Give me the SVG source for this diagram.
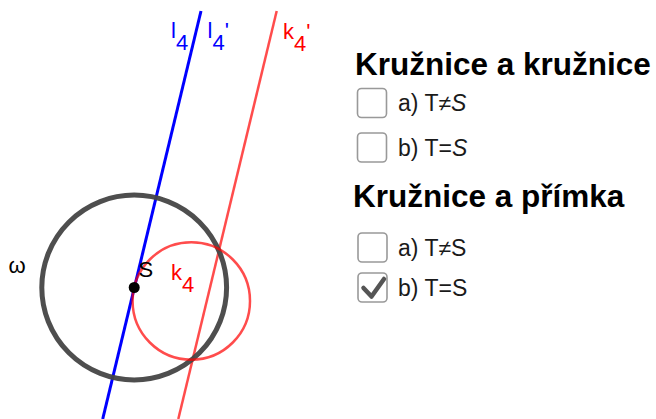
<svg xmlns="http://www.w3.org/2000/svg" width="656" height="419" viewBox="0 0 656 419">
<style>
.lbl{font-family:"Liberation Sans",Arial,sans-serif;font-size:22px}
.h{font-family:"Liberation Sans",Arial,sans-serif;font-size:31.5px;font-weight:bold;fill:#000}
.opt{font-family:"Liberation Sans",Arial,sans-serif;font-size:23px;fill:#1a1a1a}
.box{fill:#fff;stroke:#999;stroke-width:1.6}
</style>
<rect width="656" height="419" fill="#fff"/>
<g id="connectors">
<line id="l4" x1="201" y1="11" x2="102.7" y2="419" stroke="#0000ff" stroke-width="3"/>
<line id="k4p" x1="276.7" y1="11" x2="178.3" y2="419" stroke="#ff0000" stroke-opacity="0.7" stroke-width="2.5"/>
</g>
<g id="omega"><circle cx="134.2" cy="287.5" r="92.4" fill="none" stroke="#444" stroke-opacity="0.95" stroke-width="5"/></g>
<g id="k4"><circle cx="191.3" cy="301" r="58.7" fill="none" stroke="#ff0000" stroke-opacity="0.7" stroke-width="2.5"/></g>
<g id="S"><circle cx="134.2" cy="287.5" r="5.5" fill="#000"/></g>
<g id="labels">
<text class="lbl" x="171" y="38" fill="#0000ff">l<tspan dy="12">4</tspan></text>
<text class="lbl" x="207.5" y="38" fill="#0000ff">l<tspan dy="12">4</tspan><tspan dy="-12">'</tspan></text>
<text class="lbl" x="283" y="39" fill="#ff0000">k<tspan dy="12">4</tspan><tspan dy="-12">'</tspan></text>
<text class="lbl" x="171" y="280" fill="#ff0000">k<tspan dy="11.5">4</tspan></text>
<text class="lbl" x="138.5" y="276.5" fill="#000">S</text>
<text class="lbl" x="8.5" y="273" fill="#000">ω</text>
</g>
<g id="panel1">
<text class="h" x="355" y="75">Kružnice a kružnice</text>
<g id="cb1"><rect class="box" x="357.5" y="88.5" width="29" height="29" rx="4"/><text class="opt" x="398" y="111">a) T≠<tspan font-style="italic">S</tspan></text></g>
<g id="cb2"><rect class="box" x="357.5" y="133" width="29" height="29" rx="4"/><text class="opt" x="398" y="155.5">b) T=<tspan font-style="italic">S</tspan></text></g>
</g>
<g id="panel2">
<text class="h" x="353" y="207">Kružnice a přímka</text>
<g id="cb3"><rect class="box" x="358" y="233" width="29" height="29" rx="4"/><text class="opt" x="398" y="256">a) T≠S</text></g>
<g id="cb4"><rect class="box" x="358" y="273" width="29" height="29" rx="4"/><polyline points="363.5,288 371.5,296.5 384,279" fill="none" stroke="#555" stroke-width="4.5" stroke-linecap="round" stroke-linejoin="round"/><text class="opt" x="398" y="296">b) T=S</text></g>
</g>
</svg>
